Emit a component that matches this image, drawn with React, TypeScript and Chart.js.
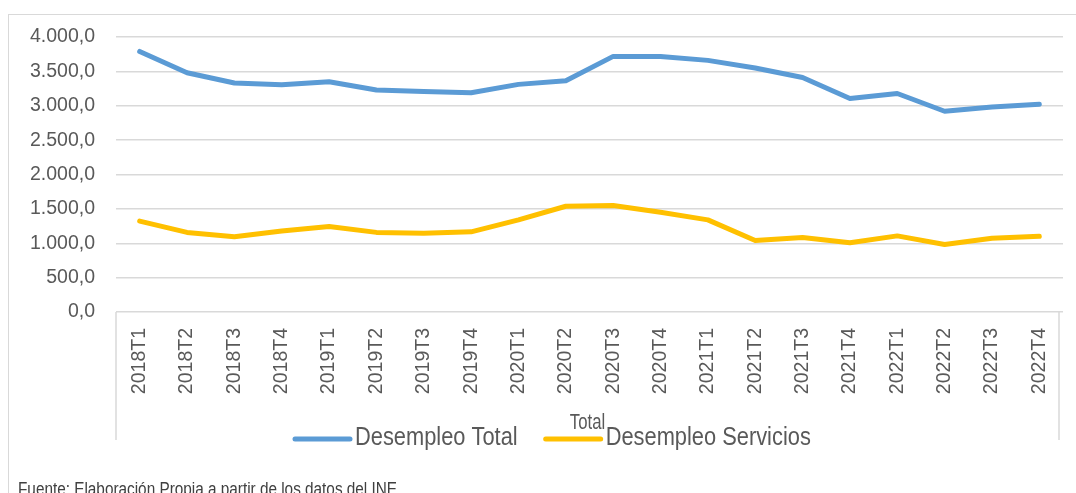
import React, { useEffect, useRef } from "react";
import { Chart, registerables } from "chart.js";

Chart.register(...registerables);

const categories = [
  "2018T1", "2018T2", "2018T3", "2018T4",
  "2019T1", "2019T2", "2019T3", "2019T4",
  "2020T1", "2020T2", "2020T3", "2020T4",
  "2021T1", "2021T2", "2021T3", "2021T4",
  "2022T1", "2022T2", "2022T3", "2022T4",
];

const desempleoTotal = [
  3790, 3480, 3330, 3305,
  3350, 3230, 3208, 3190,
  3311, 3364, 3718, 3718,
  3660, 3550, 3410, 3105,
  3178, 2920, 2983, 3022,
];

const desempleoServicios = [
  1322, 1158, 1094, 1177,
  1245, 1158, 1145, 1166,
  1340, 1538, 1548, 1451,
  1340, 1039, 1083, 1006,
  1107, 981, 1073, 1102,
];

const yTickLabels = [
  "0,0", "500,0", "1.000,0", "1.500,0", "2.000,0",
  "2.500,0", "3.000,0", "3.500,0", "4.000,0",
];

const groupLabel = "Total";
const sourceNote = "Fuente: Elaboración Propia a partir de los datos del INE";

const FONT = "'Liberation Sans', Arial, sans-serif";
const TEXT = "#595959";
const GRID = "#d9d9d9";

function drawNarrowText(ctx: any, text: string, x: number, y: number, sx: number, align: string) {
  const w = ctx.measureText(text).width * sx;
  let left = x;
  if (align === "center") left = x - w / 2;
  ctx.save();
  ctx.translate(left, y);
  ctx.scale(sx, 1);
  ctx.textAlign = "left";
  ctx.fillText(text, 0, 0);
  ctx.restore();
  return w;
}

const extrasPlugin = {
  id: "extras",
  afterDraw(chart: any) {
    const { ctx, chartArea } = chart;
    const boxRight = chartArea.right - 4;
    const boxBottom = chartArea.bottom + 128;
    ctx.save();
    ctx.strokeStyle = GRID;
    ctx.lineWidth = 1.5;
    ctx.beginPath();
    ctx.moveTo(chartArea.left, chartArea.bottom);
    ctx.lineTo(chartArea.left, boxBottom);
    ctx.moveTo(boxRight, chartArea.bottom);
    ctx.lineTo(boxRight, boxBottom);
    ctx.stroke();

    // group (second-level category) label
    ctx.fillStyle = TEXT;
    ctx.font = `22px ${FONT}`;
    ctx.textBaseline = "middle";
    drawNarrowText(ctx, groupLabel, (chartArea.left + boxRight) / 2, chartArea.bottom + 111, 0.76, "center");

    // legend
    const ly = chartArea.bottom + 127;
    let x = 295;
    ctx.font = `26px ${FONT}`;
    chart.data.datasets.forEach((ds: any) => {
      ctx.strokeStyle = ds.borderColor;
      ctx.lineWidth = 5;
      ctx.lineCap = "round";
      ctx.beginPath();
      ctx.moveTo(x, ly);
      ctx.lineTo(x + 55, ly);
      ctx.stroke();
      ctx.fillStyle = TEXT;
      const w = drawNarrowText(ctx, ds.label, x + 60, ly - 1, 0.84, "left");
      x += 60 + w + 28;
    });
    ctx.restore();
  },
};

export default function App() {
  const canvasRef = useRef<HTMLCanvasElement | null>(null);

  useEffect(() => {
    const canvas = canvasRef.current;
    if (!canvas) return;
    const chart = new Chart(canvas, {
      type: "line",
      data: {
        labels: categories,
        datasets: [
          {
            label: "Desempleo Total",
            data: desempleoTotal,
            borderColor: "#5B9BD5",
            backgroundColor: "#5B9BD5",
            borderWidth: 5,
            pointRadius: 0,
            tension: 0,
            borderCapStyle: "round",
            borderJoinStyle: "round",
          },
          {
            label: "Desempleo Servicios",
            data: desempleoServicios,
            borderColor: "#FFC000",
            backgroundColor: "#FFC000",
            borderWidth: 5,
            pointRadius: 0,
            tension: 0,
            borderCapStyle: "round",
            borderJoinStyle: "round",
          },
        ],
      },
      options: {
        animation: false,
        responsive: false,
        devicePixelRatio: 1,
        layout: { padding: { top: 37, right: 13, left: 0, bottom: 0 } },
        plugins: {
          legend: { display: false },
          tooltip: { enabled: false },
        },
        scales: {
          x: {
            offset: true,
            grid: { display: false, drawTicks: false },
            border: { display: false },
            ticks: {
              color: TEXT,
              font: { family: FONT, size: 19.5 },
              maxRotation: 90,
              minRotation: 90,
              padding: 16,
              autoSkip: false,
            },
            afterFit(scale: any) {
              scale.height = 181;
              scale.paddingRight = 0;
              scale.paddingLeft = 0;
            },
          },
          y: {
            min: 0,
            max: 4000,
            grid: { color: GRID, lineWidth: 1.5, drawTicks: false },
            border: { display: false },
            ticks: {
              stepSize: 500,
              color: TEXT,
              font: { family: FONT, size: 19.5 },
              padding: 21,
              callback: (value: any) => yTickLabels[Math.round(Number(value) / 500)],
            },
            afterFit(scale: any) {
              scale.width = 116;
            },
          },
        },
      },
      plugins: [extrasPlugin],
    });
    return () => chart.destroy();
  }, []);

  return (
    <div style={{ position: "fixed", left: 0, top: 0, width: 1076, height: 493, overflow: "hidden", background: "#fff" }}>
      <div
        style={{
          position: "absolute",
          left: 8,
          top: 14,
          width: 1200,
          height: 600,
          border: `1px solid ${GRID}`,
          boxSizing: "border-box",
        }}
      />
      <canvas ref={canvasRef} width={1076} height={493} style={{ position: "absolute", left: 0, top: 0 }} />
      <div
        style={{
          position: "absolute",
          left: 18,
          top: 478,
          fontFamily: FONT,
          fontSize: 18.7,
          color: "#404040",
          whiteSpace: "nowrap",
          transform: "scaleX(0.82)",
          transformOrigin: "0 0",
        }}
      >
        {sourceNote}
      </div>
    </div>
  );
}
